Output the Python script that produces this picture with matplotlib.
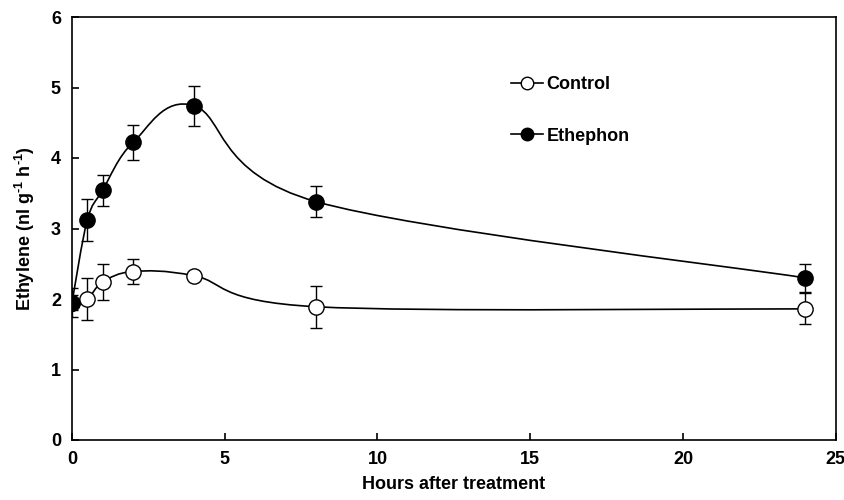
import numpy as np
import matplotlib
matplotlib.use("Agg")
import matplotlib.pyplot as plt
from matplotlib.path import Path
from matplotlib.patches import PathPatch
from matplotlib.lines import Line2D

plt.rcParams['font.family'] = ['Liberation Sans', 'DejaVu Sans']
plt.rcParams['font.weight'] = 'bold'
plt.rcParams['mathtext.fontset'] = 'custom'
plt.rcParams['mathtext.rm'] = 'Liberation Sans:bold'
plt.rcParams['mathtext.it'] = 'Liberation Sans:bold'
plt.rcParams['mathtext.bf'] = 'Liberation Sans:bold'

hours = [0, 0.5, 1, 2, 4, 8, 24]
control = [1.95, 2.00, 2.24, 2.39, 2.33, 1.89, 1.86]
control_err = [0.10, 0.30, 0.25, 0.18, 0.05, 0.30, 0.22]
ethephon = [1.95, 3.12, 3.54, 4.22, 4.74, 3.38, 2.30]
ethephon_err = [0.20, 0.30, 0.22, 0.25, 0.28, 0.22, 0.20]

xticks = [0, 5, 10, 15, 20, 25]
yticks = [0, 1, 2, 3, 4, 5, 6]


def smooth_path(x, y):
    x = np.asarray(x, float)
    y = np.asarray(y, float)
    n = len(x)
    verts = [(x[0], y[0])]
    codes = [Path.MOVETO]
    for i in range(n - 1):
        p0 = np.array([x[max(i - 1, 0)], y[max(i - 1, 0)]])
        p1 = np.array([x[i], y[i]])
        p2 = np.array([x[i + 1], y[i + 1]])
        p3 = np.array([x[min(i + 2, n - 1)], y[min(i + 2, n - 1)]])
        c1 = p1 + (p2 - p0) / 6.0
        c2 = p2 - (p3 - p1) / 6.0
        verts += [tuple(c1), tuple(c2), tuple(p2)]
        codes += [Path.CURVE4] * 3
    return Path(verts, codes)


fig = plt.figure(figsize=(8.45, 5.0), dpi=100)
ax = fig.add_axes([0.0852, 0.12, 0.9038, 0.846])

for yv, err, face in [(control, control_err, 'white'), (ethephon, ethephon_err, 'black')]:
    ax.add_patch(PathPatch(smooth_path(hours, yv), facecolor='none', edgecolor='black', lw=1.2, zorder=2))
    ax.errorbar(hours, yv, yerr=err, fmt='none', ecolor='black', elinewidth=1.0,
                capsize=4.5, capthick=1.0, zorder=3)
    ax.plot(hours, yv, 'o', ls='none', ms=11, mfc=face, mec='black', mew=1.0, zorder=4)

ax.set_xlim(0, 25)
ax.set_ylim(0, 6)
ax.set_xticks(xticks)
ax.set_yticks(yticks)
ax.tick_params(direction='in', length=5, width=1.2, labelsize=13, pad=8)
for lab in ax.get_xticklabels() + ax.get_yticklabels():
    lab.set_fontweight('bold')
for s in ax.spines.values():
    s.set_linewidth(1.2)

ax.set_xlabel('Hours after treatment', fontsize=13, fontweight='bold', labelpad=6)
ax.set_ylabel(r'Ethylene (nl g$^{\text{-1}}$ h$^{\text{-1}}$)', fontsize=13, fontweight='bold', labelpad=10)

handles = [Line2D([], [], color='black', lw=1.2, marker='o', ms=9, mfc='white', mec='black'),
           Line2D([], [], color='black', lw=1.2, marker='o', ms=9, mfc='black', mec='black')]
ax.legend(handles, ['Control', 'Ethephon'], loc='upper left', bbox_to_anchor=(0.585, 0.88),
          bbox_transform=fig.transFigure, frameon=False, handlelength=1.8, handletextpad=0.2,
          labelspacing=1.9, prop={'size': 13, 'weight': 'bold'})

fig.savefig('out.png', dpi=100)
